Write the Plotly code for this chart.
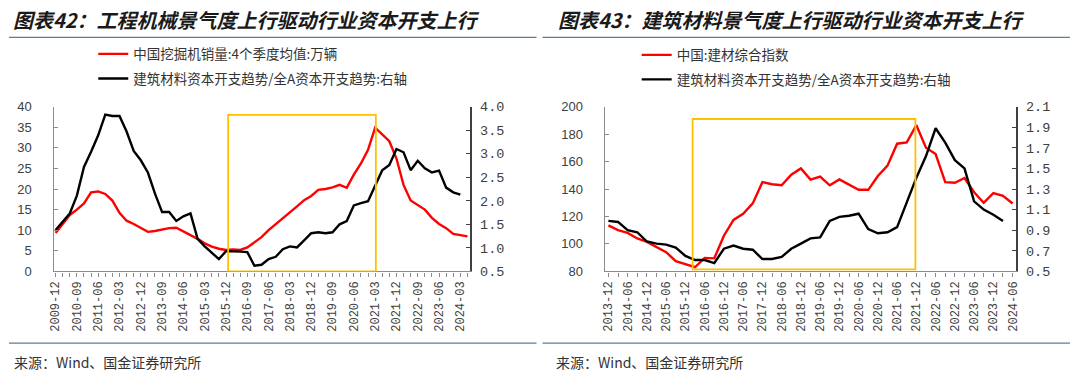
import plotly.graph_objects as go

# ---------------- data: left chart (quarterly) ----------------
quarters_left = [f"{y}-{m}" for y in range(2009, 2025) for m in ("03", "06", "09", "12")]
quarters_left = quarters_left[quarters_left.index("2009-12"):quarters_left.index("2024-06") + 1]

excavator_sales = [9.3, 11.5, 13.7, 15.0, 16.5, 19.2, 19.4, 18.8, 17.2, 14.2,
                   12.3, 11.5, 10.6, 9.6, 9.8, 10.2, 10.5, 10.6, 9.7, 9.0,
                   7.9, 6.8, 6.0, 5.5, 5.2, 5.3, 5.2, 5.8, 7.0, 8.3,
                   10.0, 11.4, 12.9, 14.3, 15.8, 17.3, 18.3, 19.8, 20.0, 20.4,
                   21.0, 20.3, 23.5, 26.2, 29.5, 34.9, 33.2, 31.6, 27.4, 21.0,
                   17.2, 16.0, 15.0, 13.0, 11.5, 10.5, 9.1, 8.8, 8.5]
capex_ratio_left = [1.38, 1.55, 1.73, 2.11, 2.72, 3.04, 3.39, 3.83, 3.80, 3.80,
                    3.47, 3.06, 2.86, 2.60, 2.15, 1.76, 1.76, 1.57, 1.67, 1.73,
                    1.19, 1.03, 0.89, 0.76, 0.93, 0.93, 0.92, 0.91, 0.62, 0.64,
                    0.76, 0.81, 0.97, 1.03, 1.01, 1.16, 1.31, 1.33, 1.31, 1.33,
                    1.50, 1.57, 1.90, 1.95, 1.99, 2.32, 2.65, 2.76, 3.10, 3.03,
                    2.65, 2.85, 2.69, 2.60, 2.64, 2.28, 2.18, 2.13]
ticks_left = ["2009-12", "2010-09", "2011-06", "2012-03", "2012-12", "2013-09",
              "2014-06", "2015-03", "2015-12", "2016-09", "2017-06", "2018-03",
              "2018-12", "2019-09", "2020-06", "2021-03", "2021-12", "2022-09",
              "2023-06", "2024-03"]

# ---------------- data: right chart (quarterly) ----------------
quarters_right = [f"{y}-{m}" for y in range(2013, 2025) for m in ("03", "06", "09", "12")]
quarters_right = quarters_right[quarters_right.index("2013-12"):quarters_right.index("2024-06") + 1]

building_index = [113.5, 110.0, 108.0, 104.0, 101.5, 98.0, 94.0, 87.5, 85.0, 83.0,
                  89.8, 89.5, 106.0, 117.5, 122.0, 129.5, 145.0, 143.5, 142.7, 150.4,
                  155.0, 146.9, 149.0, 142.7, 147.0, 143.0, 139.4, 139.4, 149.5, 157.0,
                  173.0, 174.0, 186.5, 170.0, 165.5, 145.0, 144.5, 148.0, 137.6, 130.0,
                  137.0, 135.0, 129.4]
capex_ratio_right = [0.99, 0.98, 0.90, 0.88, 0.79, 0.77, 0.76, 0.73, 0.65, 0.61,
                     0.61, 0.58, 0.72, 0.75, 0.72, 0.71, 0.62, 0.62, 0.64, 0.72,
                     0.77, 0.82, 0.83, 0.99, 1.03, 1.04, 1.06, 0.91, 0.87, 0.88,
                     0.93, 1.17, 1.41, 1.62, 1.89, 1.75, 1.58, 1.50, 1.18, 1.10,
                     1.05, 0.99]
ticks_right = ["2013-12", "2014-06", "2014-12", "2015-06", "2015-12", "2016-06",
               "2016-12", "2017-06", "2017-12", "2018-06", "2018-12", "2019-06",
               "2019-12", "2020-06", "2020-12", "2021-06", "2021-12", "2022-06",
               "2022-12", "2023-06", "2023-12", "2024-06"]

# ---------------- styling ----------------
W, H = 1080, 380
CJK = "Noto Sans CJK SC"
AX_GRAY = "#8c8c8c"
AX_DARK = "#404040"
TXT = "#404040"
YDOM = [(380 - 276) / H, (380 - 104) / H]

fig = go.Figure()
fig.add_trace(go.Scatter(x=quarters_left, y=excavator_sales, mode="lines",
                         name="中国挖掘机销量:4个季度均值:万辆",
                         line=dict(color="#FF0000", width=2.4),
                         xaxis="x", yaxis="y", legend="legend", legendgroup="a"))
fig.add_trace(go.Scatter(x=quarters_left[:len(capex_ratio_left)], y=capex_ratio_left, mode="lines",
                         name="建筑材料资本开支趋势/全A资本开支趋势:右轴",
                         line=dict(color="#000000", width=2.4),
                         xaxis="x", yaxis="y2", legend="legend", legendgroup="b"))
fig.add_trace(go.Scatter(x=quarters_right, y=building_index, mode="lines",
                         name="中国:建材综合指数",
                         line=dict(color="#FF0000", width=2.4),
                         xaxis="x2", yaxis="y3", legend="legend2", legendgroup="c"))
fig.add_trace(go.Scatter(x=quarters_right[:len(capex_ratio_right)], y=capex_ratio_right, mode="lines",
                         name="建筑材料资本开支趋势/全A资本开支趋势:右轴",
                         line=dict(color="#000000", width=2.4),
                         xaxis="x2", yaxis="y4", legend="legend2", legendgroup="d"))

xcommon = dict(type="category", showline=True, linecolor=AX_GRAY, linewidth=1.3,
               ticks="outside", ticklen=4, tickcolor=AX_GRAY, tickangle=-90,
               tickfont=dict(family="Liberation Mono", size=12, color=TXT),
               showgrid=False, zeroline=False, tickmode="array",
               minor=dict(ticks="outside", ticklen=4, tickcolor=AX_GRAY, dtick=1, tick0=0, showgrid=False))
yleft = dict(showline=True, linecolor=AX_GRAY, linewidth=1.3, ticks="inside", ticklen=4,
             tickcolor=AX_GRAY, showgrid=False, zeroline=False,
             tickfont=dict(family="Liberation Sans", size=13, color=TXT), ticklabelstandoff=18)
yright = dict(showline=True, linecolor=AX_DARK, linewidth=1.6, ticks="inside", ticklen=4,
              tickcolor=AX_DARK, showgrid=False, zeroline=False, side="right",
              tickformat=".1f", tickfont=dict(family="Liberation Mono", size=13.5, color=TXT),
              ticklabelstandoff=6)

fig.update_layout(
    width=W, height=H, margin=dict(l=0, r=0, t=0, b=0),
    paper_bgcolor="white", plot_bgcolor="white", hovermode=False,
    xaxis=dict(xcommon, domain=[50 / W, 469.5 / W], range=[-0.28, 58.3], anchor="y",
               categoryorder="array", categoryarray=quarters_left, tickvals=ticks_left, ticktext=ticks_left),
    yaxis=dict(yleft, domain=YDOM, range=[0, 40], dtick=5, tick0=0, anchor="x"),
    yaxis2=dict(yright, overlaying="y", range=[0.5, 4.0], dtick=0.5, tick0=0.5, anchor="x"),
    xaxis2=dict(xcommon, domain=[605.7 / W, 1020 / W], range=[-0.39, 42.3], anchor="y3",
                categoryorder="array", categoryarray=quarters_right, tickvals=ticks_right, ticktext=ticks_right),
    yaxis3=dict(yleft, domain=YDOM, range=[80, 200], dtick=20, tick0=80, anchor="x2"),
    yaxis4=dict(yright, overlaying="y3", range=[0.5, 2.1], dtick=0.2, tick0=0.5, anchor="x2"),
    legend=dict(x=90 / W, y=(380 - 33) / H, xanchor="left", yanchor="top", bgcolor="rgba(0,0,0,0)",
                font=dict(family=CJK, size=13.5, color="#333333"), tracegroupgap=4, traceorder="grouped"),
    legend2=dict(x=638 / W, y=(380 - 34) / H, xanchor="left", yanchor="top", bgcolor="rgba(0,0,0,0)",
                 font=dict(family=CJK, size=13.5, color="#333333"), tracegroupgap=4, traceorder="grouped"),
)

# highlight boxes
fig.add_shape(type="rect", xref="x", yref="y", x0=24.3, x1=45.1, y0=0, y1=38,
              line=dict(color="#FFC000", width=1.8), fillcolor="rgba(0,0,0,0)", layer="above")
fig.add_shape(type="rect", xref="x2", yref="y3", x0=8.75, x1=31.9, y0=81.4, y1=191,
              line=dict(color="#FFC000", width=1.8), fillcolor="rgba(0,0,0,0)", layer="above")

# title / source rules
RULE = "#5a7f9c"
for x0, x1 in ((5, 537), (543, 1075)):
    for ypx in (31.7, 351):
        fig.add_shape(type="line", xref="paper", yref="paper", x0=x0 / W, x1=x1 / W,
                      y0=(380 - ypx) / H, y1=(380 - ypx) / H, line=dict(color=RULE, width=1.3))

titles = [("图表42：工程机械景气度上行驱动行业资本开支上行", 7),
          ("图表43：建筑材料景气度上行驱动行业资本开支上行", 557)]
for text, xpx in titles:
    fig.add_annotation(text=text, xref="paper", yref="paper", x=xpx / W, y=(380 - 13) / H,
                       xanchor="left", yanchor="middle", showarrow=False,
                       font=dict(family=CJK, size=20, color="#1a1a1a", weight="bold", style="italic"))
for xpx in (8, 555):
    fig.add_annotation(text="来源：Wind、国金证券研究所", xref="paper", yref="paper",
                       x=xpx / W, y=(380 - 371) / H, xanchor="left", yanchor="middle",
                       showarrow=False, font=dict(family=CJK, size=14, color="#333333"))

fig.write_html("out.html", config={"displayModeBar": False},
               post_script="document.body.style.margin='0';")
